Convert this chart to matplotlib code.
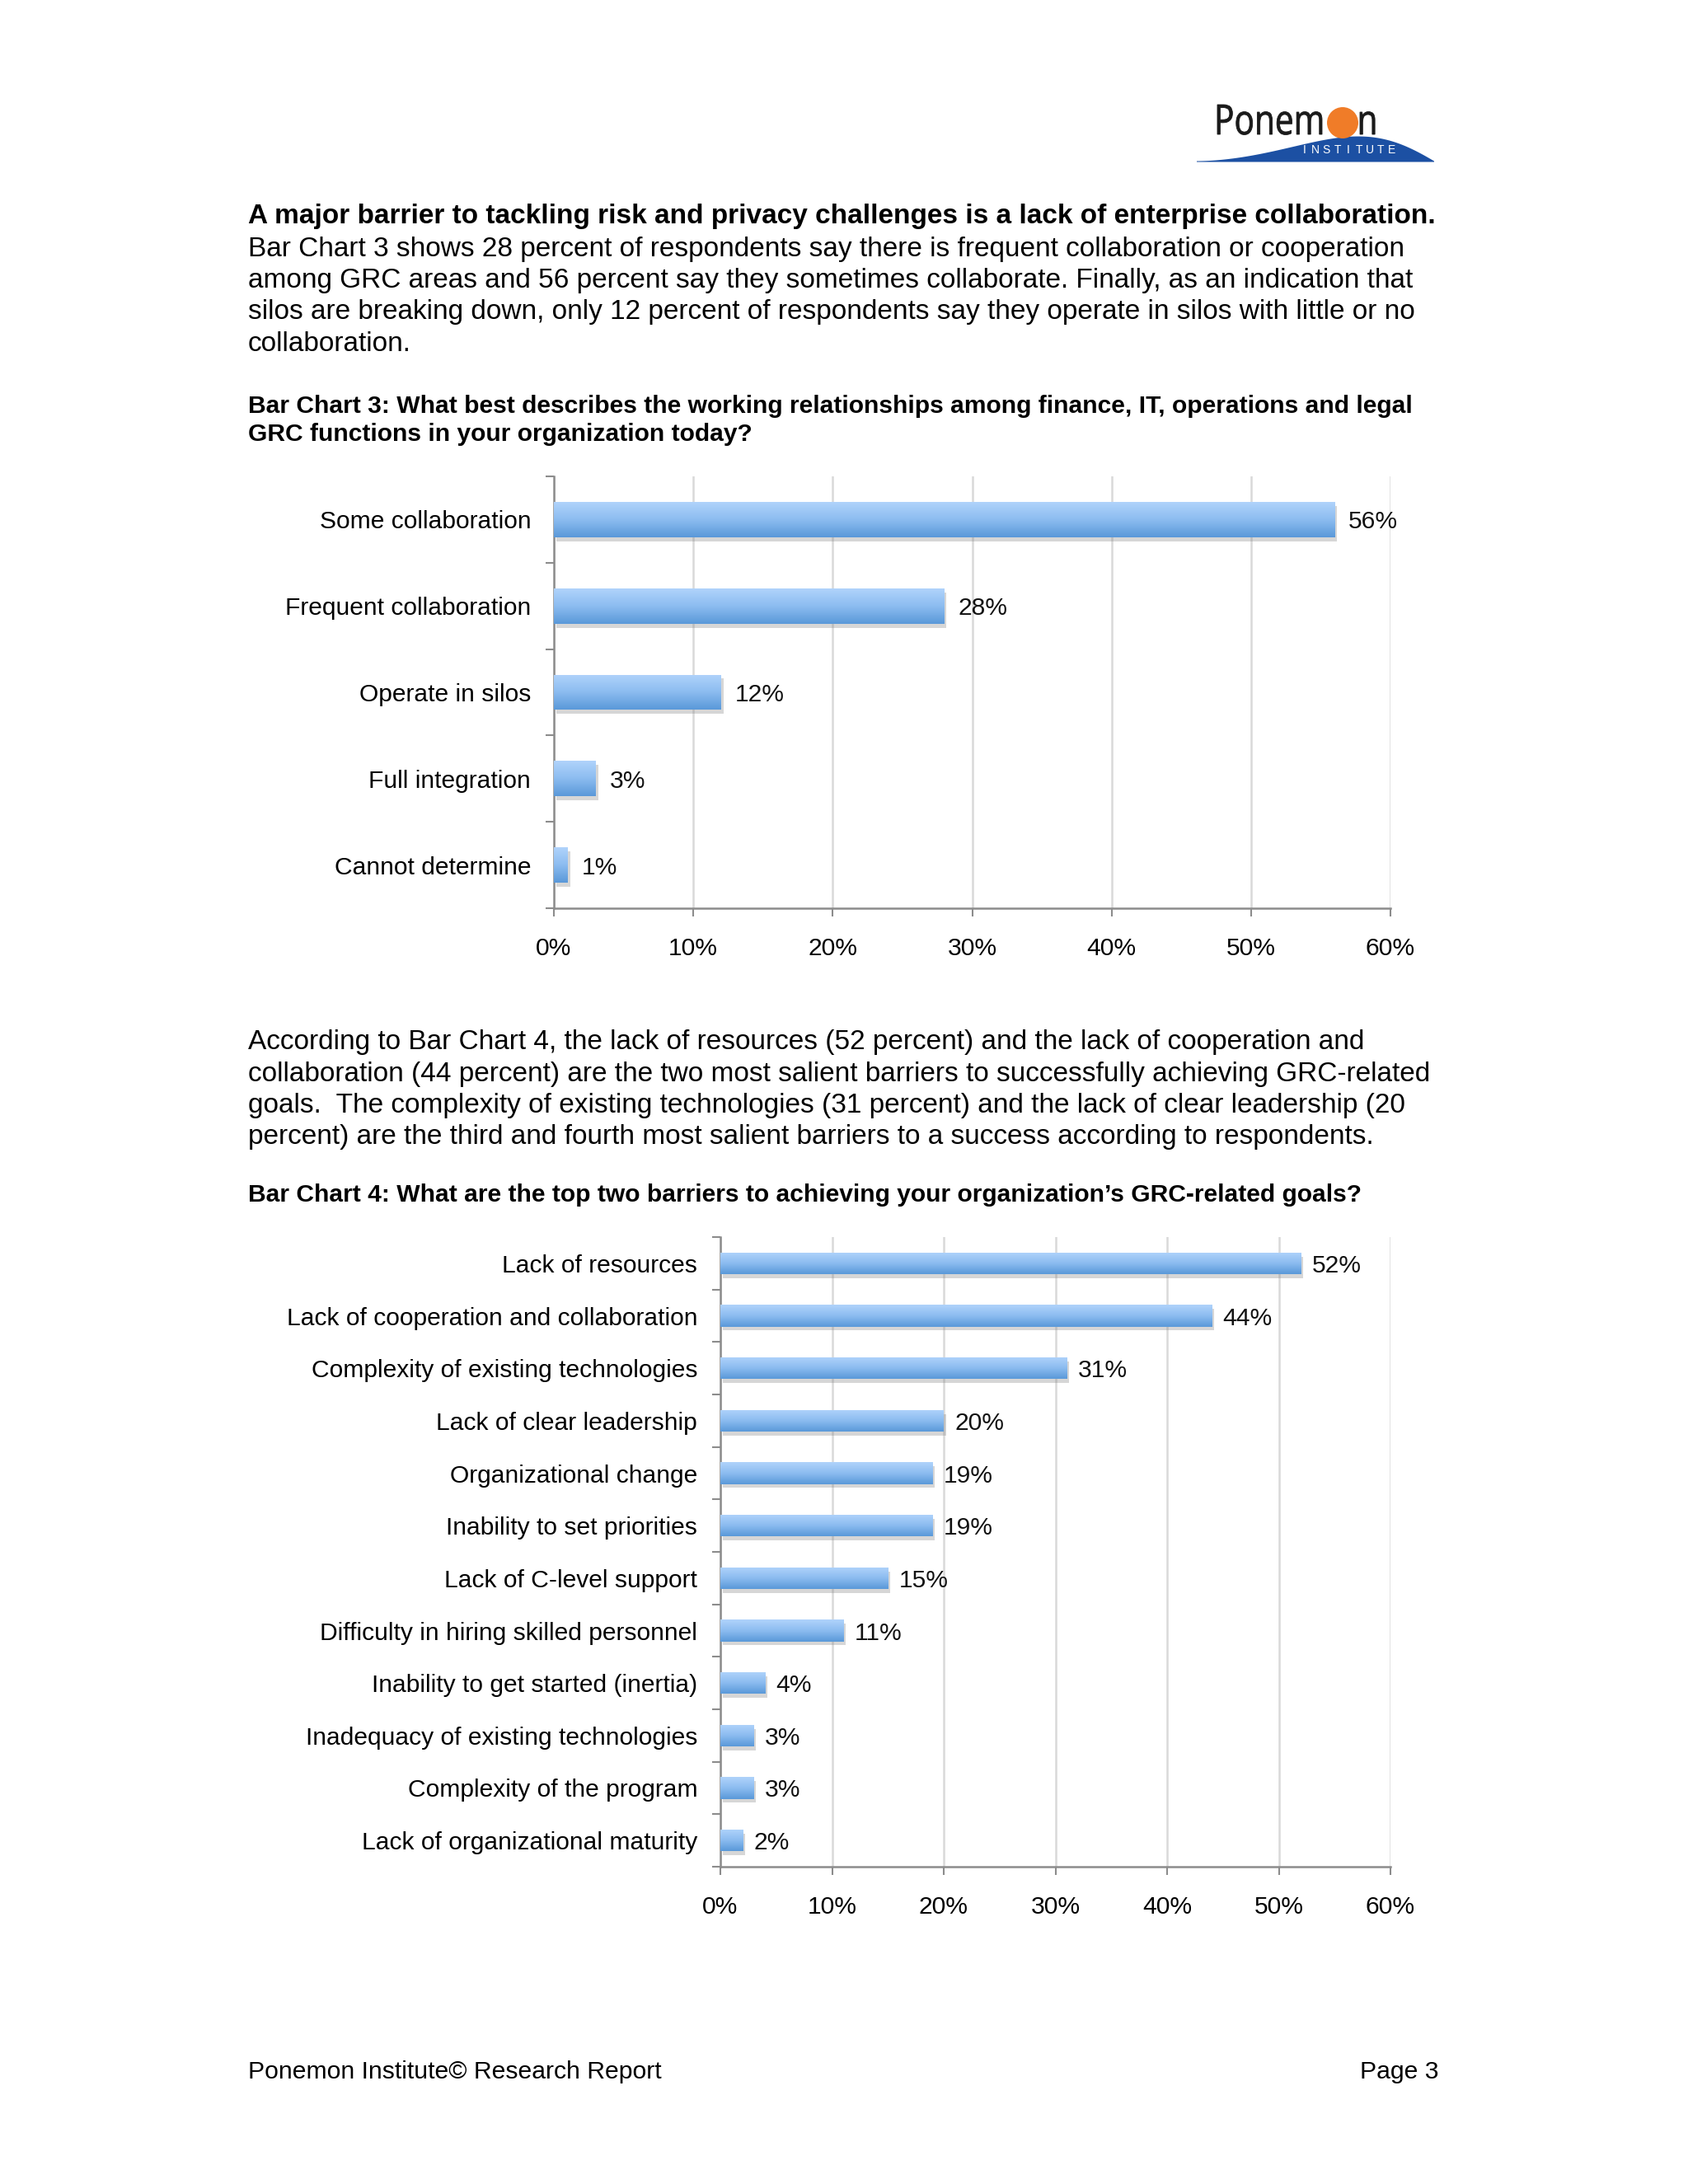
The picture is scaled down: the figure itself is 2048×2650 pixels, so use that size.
import numpy as np
import matplotlib
matplotlib.use("Agg")
import matplotlib.pyplot as plt
import matplotlib.patheffects as pe
from matplotlib.patches import Polygon, Circle, PathPatch
from matplotlib.colors import LinearSegmentedColormap
from matplotlib.textpath import TextPath
from matplotlib.font_manager import FontProperties
from matplotlib.transforms import Affine2D

plt.rcParams['font.family'] = ['Liberation Sans', 'DejaVu Sans']

# ---------------- data ----------------
cats3 = ["Some collaboration", "Frequent collaboration", "Operate in silos",
         "Full integration", "Cannot determine"]
vals3 = [56, 28, 12, 3, 1]

cats4 = ["Lack of resources", "Lack of cooperation and collaboration",
         "Complexity of existing technologies", "Lack of clear leadership",
         "Organizational change", "Inability to set priorities",
         "Lack of C-level support", "Difficulty in hiring skilled personnel",
         "Inability to get started (inertia)", "Inadequacy of existing technologies",
         "Complexity of the program", "Lack of organizational maturity"]
vals4 = [52, 44, 31, 20, 19, 19, 15, 11, 4, 3, 3, 2]

xticks = [0, 10, 20, 30, 40, 50, 60]
xticklabels = ["0%", "10%", "20%", "30%", "40%", "50%", "60%"]

W, H = 2048, 2650
fig = plt.figure(figsize=(W / 100, H / 100), dpi=100)
fig.patch.set_facecolor("white")

grad_cmap = LinearSegmentedColormap.from_list("g", ["#b0d3fb", "#8cbcf0", "#5a99d9"])
grad = np.linspace(0, 1, 64).reshape(-1, 1)

LAB_FS = 21.6


def bar_chart(rect, cats, vals, bar_h):
    ax = fig.add_axes(rect)
    n = len(cats)
    pos = np.arange(n)
    bars = ax.barh(pos, vals, height=bar_h, color="#7fb2ea", edgecolor="none", zorder=3,
                   path_effects=[pe.SimplePatchShadow(offset=(2, -3.5), shadow_rgbFace="#7a7a7a", alpha=0.3),
                                 pe.Normal()])
    for b, v in zip(bars, vals):
        y0 = b.get_y()
        h = b.get_height()
        im = ax.imshow(grad, extent=(0, v, y0 + h, y0), origin="upper", aspect="auto",
                       cmap=grad_cmap, zorder=4, interpolation="bicubic")
        im.set_clip_path(b)
        ax.text(v + 1.0, y0 + h / 2, f"{v}%", va="center_baseline", ha="left", fontsize=LAB_FS,
                color="#111111", zorder=5)
    ax.set_xlim(0, 60)
    ax.set_ylim(n - 0.5, -0.5)
    ax.set_xticks(xticks)
    ax.set_xticklabels(xticklabels, fontsize=LAB_FS)
    ax.set_yticks(pos)
    ax.set_yticklabels(cats, fontsize=LAB_FS)
    ax.set_yticks(np.arange(n + 1) - 0.5, minor=True)
    ax.tick_params(axis="y", which="major", length=0, pad=20)
    ax.tick_params(axis="y", which="minor", length=7, width=1.5, color="#8c8c8c", direction="out")
    ax.tick_params(axis="x", which="major", length=7, width=1.5, color="#8c8c8c", pad=18)
    ax.xaxis.grid(True, color="#d9d9d9", linewidth=1.8, zorder=0)
    ax.set_axisbelow(True)
    for s in ["top", "right"]:
        ax.spines[s].set_visible(False)
    for s in ["left", "bottom"]:
        ax.spines[s].set_color("#8c8c8c")
        ax.spines[s].set_linewidth(1.8)
    return ax


bar_chart([672 / W, 1 - 1102 / H, (1687 - 672) / W, (1102 - 578) / H],
          cats3, vals3, 0.41)
bar_chart([874 / W, 1 - 2265 / H, (1687 - 874) / W, (2265 - 1501) / H],
          cats4, vals4, 0.41)

# ---------------- overlay for text / logo ----------------
ov = fig.add_axes([0, 0, 1, 1], zorder=10)
ov.set_xlim(0, W)
ov.set_ylim(H, 0)
ov.axis("off")
ov.patch.set_alpha(0)

LX = 301
body_fs = 24.0
ov.text(LX, 263, "A major barrier to tackling risk and privacy challenges is a lack of enterprise collaboration.",
        fontsize=body_fs, fontweight="bold", va="center", ha="left")
para1 = ["Bar Chart 3 shows 28 percent of respondents say there is frequent collaboration or cooperation",
         "among GRC areas and 56 percent say they sometimes collaborate. Finally, as an indication that",
         "silos are breaking down, only 12 percent of respondents say they operate in silos with little or no",
         "collaboration."]
for i, line in enumerate(para1):
    ov.text(LX, 302 + i * 38.4, line, fontsize=body_fs, va="center", ha="left")

title_fs = 21.6
ov.text(LX, 493, "Bar Chart 3: What best describes the working relationships among finance, IT, operations and legal",
        fontsize=title_fs, fontweight="bold", va="center", ha="left")
ov.text(LX, 527, "GRC functions in your organization today?",
        fontsize=title_fs, fontweight="bold", va="center", ha="left")

para2 = ["According to Bar Chart 4, the lack of resources (52 percent) and the lack of cooperation and",
         "collaboration (44 percent) are the two most salient barriers to successfully achieving GRC-related",
         "goals.  The complexity of existing technologies (31 percent) and the lack of clear leadership (20",
         "percent) are the third and fourth most salient barriers to a success according to respondents."]
for i, line in enumerate(para2):
    ov.text(LX, 1265 + i * 38.3, line, fontsize=body_fs, va="center", ha="left")

ov.text(LX, 1450, "Bar Chart 4: What are the top two barriers to achieving your organization\u2019s GRC-related goals?",
        fontsize=title_fs, fontweight="bold", va="center", ha="left")

ov.text(LX, 2514, "Ponemon Institute\u00a9 Research Report", fontsize=21.7, va="center", ha="left")
ov.text(1746, 2514, "Page 3", fontsize=21.7, va="center", ha="right")

# ---------------- logo ----------------
xs = np.linspace(1452, 1740, 120)
t = (xs - 1452) / (1740 - 1452)
top = 195.5 - 30 * np.sin(np.pi * t ** 1.8)
pts = list(zip(xs, top)) + [(1740, 196.5), (1452, 196.5)]
ov.add_patch(Polygon(pts, closed=True, facecolor="#1c50a3", edgecolor="none"))

fp = FontProperties(family=["Open Sans", "DejaVu Sans"])
tp = TextPath((0, 0), "Ponem", size=1, prop=fp)
ext = tp.get_extents()
sx = (1604 - 1477) / ext.width
sy = 36 / ext.y1
base = 163
tr = Affine2D().translate(-ext.x0, 0).scale(sx, -sy).translate(1477, base)
ov.add_patch(PathPatch(tr.transform_path(tp), facecolor="#1a1a1a", edgecolor="#1a1a1a", linewidth=0.6))
tpn = TextPath((0, 0), "n", size=1, prop=fp)
extn = tpn.get_extents()
trn = Affine2D().translate(-extn.x0, 0).scale(sx, -sy).translate(1650, base)
ov.add_patch(PathPatch(trn.transform_path(tpn), facecolor="#1a1a1a", edgecolor="#1a1a1a", linewidth=0.6))
ov.add_patch(Circle((1629, 149), 19, facecolor="#f07c28", edgecolor="none"))
for i, ch in enumerate("INSTITUTE"):
    ov.text(1583 + i * 13.2, 182, ch, fontsize=10, color="white", va="center", ha="center")

fig.savefig("out.png", dpi=100, facecolor="white")
